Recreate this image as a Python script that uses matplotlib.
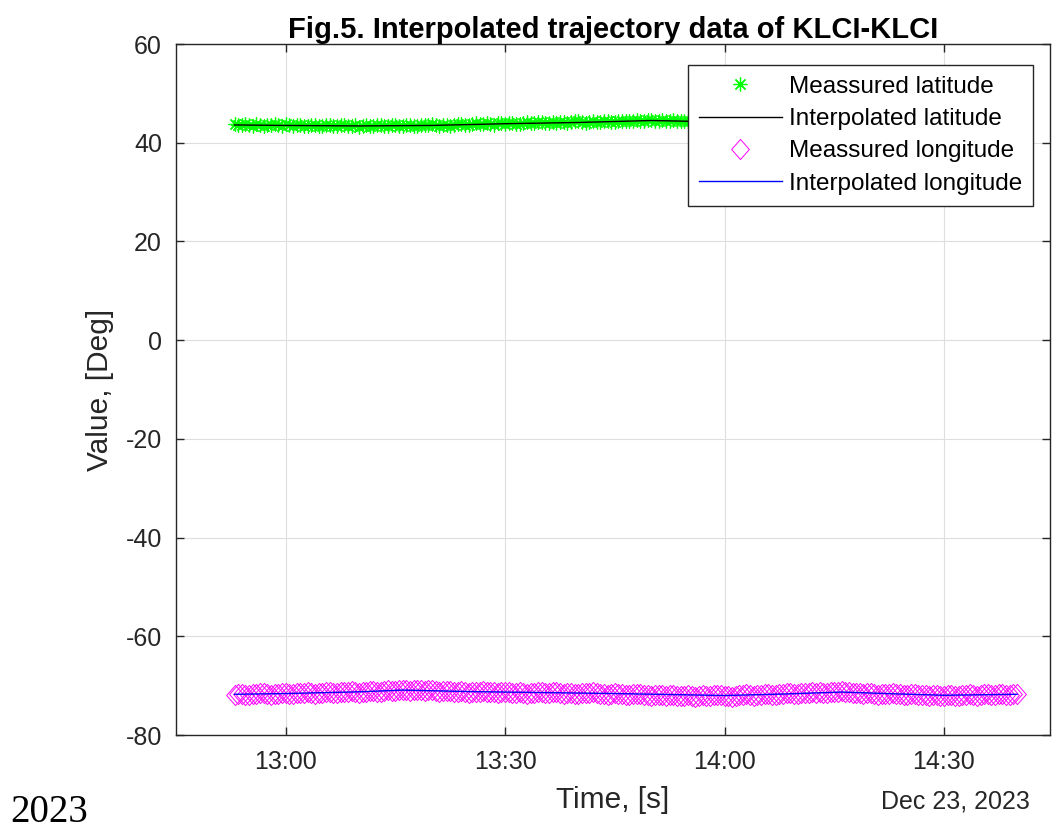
import numpy as np
import pandas as pd
import matplotlib
matplotlib.use("Agg")
import matplotlib.pyplot as plt
import matplotlib.dates as mdates
from matplotlib.path import Path

# measured samples every 30 s from 12:53:00 to 14:40:00 (23 Dec 2023)
meas_start = "2023-12-23 12:53"
meas_step = "30s"
lat_meas = [
    43.7, 43.6, 43.5, 43.7, 43.6, 43.4, 43.8, 43.6, 43.4, 43.5, 43.6, 43.7, 43.5, 43.4, 43.7, 43.5, 43.4, 43.6, 43.6, 43.4,
    43.3, 43.5, 43.5, 43.3, 43.4, 43.6, 43.6, 43.4, 43.3, 43.5, 43.5, 43.3, 43.4, 43.6, 43.2, 43.4, 43.5, 43.3, 43.4, 43.5,
    43.6, 43.4, 43.3, 43.5, 43.5, 43.3, 43.4, 43.6, 43.6, 43.4, 43.3, 43.5, 43.5, 43.6, 43.7, 43.5, 43.4, 43.6, 43.6, 43.4,
    43.5, 43.7, 43.8, 43.6, 43.6, 43.8, 43.9, 43.7, 43.7, 43.9, 43.8, 43.6, 43.9, 44.0, 43.7, 43.9, 44.0, 43.8, 43.8, 44.0,
    44.1, 43.9, 43.9, 44.1, 44.2, 44.0, 44.0, 44.2, 43.9, 44.1, 44.2, 44.0, 44.1, 44.3, 44.3, 44.1, 44.0, 44.2, 44.3, 44.1,
    44.2, 44.4, 44.4, 44.2, 44.1, 44.3, 44.5, 44.3, 44.3, 44.5, 44.6, 44.4, 44.4, 44.6, 44.7, 44.5, 44.5, 44.6, 44.4, 44.3,
    44.6, 44.4, 44.3, 44.5, 44.5, 44.3, 44.2, 44.4, 44.4, 44.2, 44.1, 44.3, 44.3, 44.1, 44.2, 44.3, 44.0, 44.2, 44.3, 44.1,
    44.1, 44.2, 44.2, 44.0, 43.9, 44.1, 44.1, 43.9, 44.0, 44.2, 44.2, 44.0, 43.8, 44.0, 44.0, 43.8, 43.9, 44.1, 44.1, 43.9,
    43.8, 44.0, 44.0, 43.8, 43.9, 44.0, 43.7, 43.9, 44.0, 43.8, 43.8, 44.0, 44.1, 43.9, 43.9, 44.0, 43.7, 43.9, 44.0, 43.8,
    43.8, 44.0, 44.1, 43.9, 43.9, 44.0, 44.0, 43.8, 43.8, 44.0, 44.1, 43.9, 43.9, 44.0, 44.0, 44.1, 44.2, 44.0, 43.9, 44.1,
    44.1, 43.9, 43.8, 44.0, 44.0, 43.9, 44.1, 44.0, 43.9, 44.1, 44.2, 44.0, 44.0, 44.1, 44.0,
]
lon_meas = [
    -71.8, -71.7, -71.6, -71.8, -71.9, -71.7, -71.7, -71.5, -71.5, -71.7, -71.8, -71.6, -71.6, -71.5, -71.4, -71.6, -71.7, -71.5, -71.5, -71.4,
    -71.3, -71.5, -71.6, -71.4, -71.4, -71.3, -71.2, -71.4, -71.5, -71.3, -71.3, -71.2, -71.1, -71.3, -71.4, -71.2, -71.2, -71.1, -71.0, -71.2,
    -71.3, -71.1, -70.9, -71.0, -71.1, -70.9, -70.8, -70.9, -71.0, -70.8, -70.8, -70.9, -71.1, -70.9, -70.9, -71.0, -71.2, -71.1, -71.0, -71.1,
    -71.3, -71.2, -71.1, -71.2, -71.4, -71.2, -71.2, -71.3, -71.0, -71.2, -71.3, -71.2, -71.4, -71.3, -71.2, -71.3, -71.5, -71.4, -71.3, -71.4,
    -71.6, -71.4, -71.4, -71.3, -71.2, -71.4, -71.5, -71.3, -71.3, -71.5, -71.6, -71.5, -71.4, -71.6, -71.7, -71.5, -71.5, -71.4, -71.3, -71.5,
    -71.6, -71.7, -71.8, -71.6, -71.5, -71.6, -71.7, -71.8, -71.9, -71.7, -71.6, -71.7, -71.8, -71.9, -72.1, -71.9, -71.8, -71.9, -72.0, -71.9,
    -71.8, -72.0, -72.1, -72.0, -71.9, -72.0, -72.2, -72.0, -71.9, -72.0, -72.1, -71.9, -71.8, -71.9, -72.0, -72.1, -72.2, -72.0, -71.9, -71.8,
    -71.7, -71.9, -72.0, -71.9, -71.8, -71.7, -71.6, -71.8, -71.9, -71.7, -71.7, -71.5, -71.5, -71.6, -71.6, -71.4, -71.4, -71.5, -71.3, -71.4,
    -71.3, -71.5, -71.5, -71.3, -71.2, -71.3, -71.1, -71.2, -71.3, -71.4, -71.5, -71.4, -71.6, -71.5, -71.4, -71.6, -71.8, -71.6, -71.6, -71.7,
    -71.5, -71.7, -71.7, -71.8, -71.9, -71.7, -71.6, -71.8, -71.8, -71.9, -72.0, -71.9, -71.9, -72.0, -72.1, -71.9, -71.8, -72.0, -72.0, -71.9,
    -71.9, -71.7, -71.8, -72.0, -71.8, -71.7, -71.6, -71.8, -71.9, -71.7, -71.7, -71.8, -71.8, -71.7, -71.7,
]

# interpolated curves (nodes)
lat_fit_times = ["12:53", "13:00", "13:10", "13:20", "13:30", "13:40",
                 "13:50", "14:00", "14:10", "14:20", "14:30", "14:40"]
lat_fit = [43.6, 43.5, 43.4, 43.5, 43.85, 44.1, 44.5, 44.2, 44.0, 43.9, 44.0, 44.0]
lon_fit_times = ["12:53", "13:00", "13:10", "13:16", "13:25", "13:35", "13:45",
                 "14:00", "14:08", "14:16", "14:22", "14:30", "14:40"]
lon_fit = [-71.75, -71.6, -71.25, -70.9, -71.2, -71.4, -71.6,
           -72.0, -71.7, -71.3, -71.6, -71.95, -71.75]

x_ticks = ["13:00", "13:30", "14:00", "14:30"]
y_ticks = [-80, -60, -40, -20, 0, 20, 40, 60]

DAY = "2023-12-23 "
FONT = "Liberation Sans"
INK = "#262626"


def stamps(hhmm):
    return pd.to_datetime([DAY + t for t in hhmm])


def main():
    plt.rcParams["font.family"] = [FONT, "DejaVu Sans"]
    plt.rcParams["axes.unicode_minus"] = False
    fig = plt.figure(figsize=(10.52, 8.3), dpi=100)
    W, H = 1052, 830
    left, right, top, bottom = 176, 1050, 44, 735
    ax = fig.add_axes([left / W, 1 - bottom / H, (right - left) / W, (bottom - top) / H])

    t_meas = pd.date_range(meas_start, periods=len(lat_meas), freq=meas_step)
    diamond = Path([(0, 1), (0.88, 0), (0, -1), (-0.88, 0), (0, 1)],
                   [Path.MOVETO, Path.LINETO, Path.LINETO, Path.LINETO, Path.CLOSEPOLY])

    ax.plot(t_meas, lat_meas, ls="none", marker=(8, 2, 0), ms=10, mew=0.9,
            color=(0, 1, 0), label="Meassured latitude")
    ax.plot(stamps(lat_fit_times), lat_fit, color="k", lw=1.0, label="Interpolated latitude")
    ax.plot(t_meas, lon_meas, ls="none", marker=diamond, ms=14.5, mew=0.7,
            mfc="none", mec=(1, 0, 1), label="Meassured longitude")
    ax.plot(stamps(lon_fit_times), lon_fit, color=(0, 0, 1), lw=1.0,
            label="Interpolated longitude")

    ax.set_xlim(pd.Timestamp(DAY + "12:45"), pd.Timestamp(DAY + "14:44:30"))
    ax.set_ylim(-80, 60)
    ax.set_xticks(stamps(x_ticks))
    ax.xaxis.set_major_formatter(mdates.DateFormatter("%H:%M"))
    ax.set_yticks(y_ticks)

    ax.grid(True, color="#dedede", lw=0.8)
    ax.set_axisbelow(True)
    for s in ax.spines.values():
        s.set_color(INK)
        s.set_linewidth(1.0)
    ax.tick_params(direction="in", length=6, width=1, color=INK, labelcolor=INK,
                   labelsize=18, top=True, right=True)
    ax.tick_params(axis="y", pad=10)
    ax.tick_params(axis="x", pad=11)

    ax.set_title("Fig.5. Interpolated trajectory data of KLCI-KLCI",
                 fontsize=21, fontweight="bold", pad=4)
    ax.set_xlabel("Time, [s]", fontsize=21.5, color=INK)
    ax.xaxis.set_label_coords(0.5, -0.074)
    ax.set_ylabel("Value, [Deg]", fontsize=21.5, color=INK)
    ax.yaxis.set_label_coords(-0.071, 0.5)
    ax.text((1030 - left) / (right - left), (bottom - 808) / (bottom - top),
            "Dec 23, 2023", ha="right", va="baseline", fontsize=18, color=INK,
            transform=ax.transAxes)

    leg = ax.legend(loc="upper right", bbox_to_anchor=(1033 / W, 1 - 65 / H),
                    bbox_transform=fig.transFigure, borderaxespad=0, fontsize=17.5,
                    fancybox=False, framealpha=1, edgecolor=INK, handlelength=3.4,
                    handletextpad=0.3, labelspacing=0.42, borderpad=0.45)
    leg.get_frame().set_linewidth(1.0)

    fig.text(10 / W, 1 - 822 / H, "2023", family="Liberation Serif", fontsize=28,
             ha="left", va="baseline")

    fig.savefig("out.png", dpi=100)


if __name__ == "__main__":
    main()
